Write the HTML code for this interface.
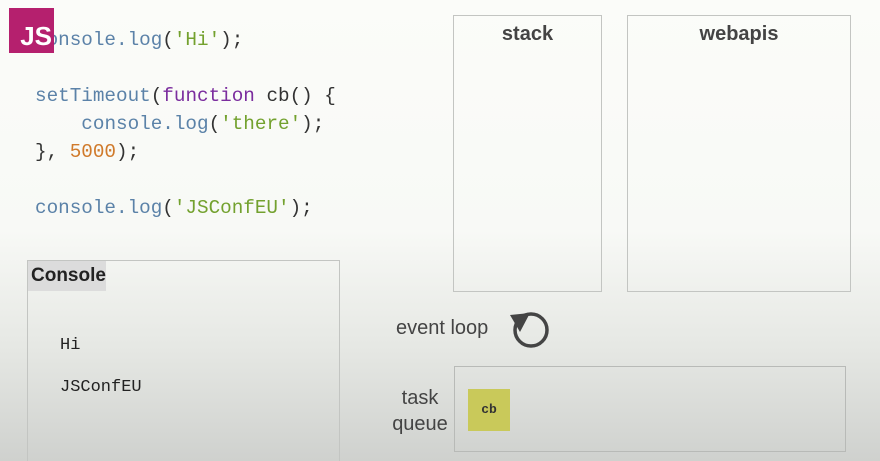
<!DOCTYPE html>
<html style="margin:0;height:461px;overflow:hidden"><head><style>
body{margin:0;width:880px;height:461px;overflow:hidden;position:relative;
background:linear-gradient(#fbfcf9 0%,#f8f9f6 50%,#e6e8e4 75%,#cfd1ce 100%);font-family:"Liberation Sans",sans-serif;}
.a{position:absolute}
pre{margin:0;font-family:"Liberation Mono",monospace;font-size:19.3px;line-height:28px;color:#333}
.b{color:#5b82a8}.g{color:#73a12e}.p{color:#7b2d9e}.o{color:#d07a2b}
.box{position:absolute;border:1px solid #c3c5c2}
.t{font-size:20px;color:#444;text-align:center;font-weight:bold}
</style></head><body>
<pre class="a" style="left:35px;top:26px"><span class="b">console.log</span>(<span class="g">'Hi'</span>);

<span class="b">setTimeout</span>(<span class="p">function</span> cb() {
    <span class="b">console.log</span>(<span class="g">'there'</span>);
}, <span class="o">5000</span>);

<span class="b">console.log</span>(<span class="g">'JSConfEU'</span>);</pre>
<div class="a" style="left:9px;top:8px;width:45px;height:45px;background:#b5206e;color:#fff;font-weight:bold;font-size:26px;line-height:56px;text-align:right;padding-right:2px;box-sizing:border-box">JS</div>
<div class="box" style="left:453px;top:15px;width:147px;height:275px"><div class="t" style="margin-top:7px">stack</div></div>
<div class="box" style="left:627px;top:15px;width:222px;height:275px"><div class="t" style="margin-top:7px">webapis</div></div>
<div class="box" style="left:27px;top:260px;width:311px;height:210px">
<div style="width:78px;height:30px;background:#dcdcdc;font-size:19px;font-weight:bold;color:#222;line-height:30px;padding-left:3px;box-sizing:border-box">Console</div>
<pre style="position:absolute;left:32px;top:64px;font-size:17px;line-height:42px;color:#222">Hi
JSConfEU</pre></div>
<div class="a" style="left:396px;top:317px;font-size:20px;color:#444">event loop</div>
<svg class="a" style="left:505px;top:310px" width="50" height="42"><circle cx="26" cy="20" r="16" fill="none" stroke="#444" stroke-width="3.5"/><polygon points="5,5 25,3 15,22" fill="#444"/></svg>
<div class="a" style="left:382px;top:385px;width:76px;font-size:20px;color:#444;text-align:center;line-height:26px">task<br>queue</div>
<div class="box" style="left:454px;top:366px;width:390px;height:84px;border-color:#b8bab7"></div>
<div class="a" style="left:468px;top:389px;width:42px;height:42px;background:#c9c95a;font-family:'Liberation Mono',monospace;font-size:13px;font-weight:bold;color:#333;text-align:center;line-height:42px">cb</div>
</body></html>
